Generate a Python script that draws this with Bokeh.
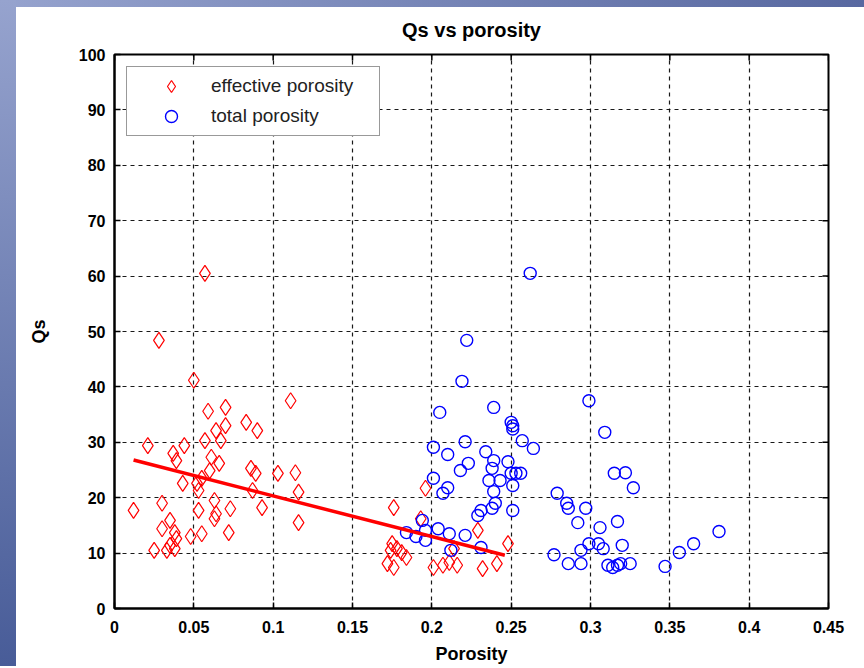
from bokeh.plotting import figure
from bokeh.models import Range1d, FixedTicker, Legend, LegendItem
from bokeh.embed import file_html
from bokeh.resources import INLINE

# effective porosity (red diamonds)
eff_porosity = [0.057, 0.028, 0.050, 0.111, 0.059, 0.070, 0.070, 0.064, 0.083, 0.090,
                0.057, 0.067, 0.021, 0.044, 0.037, 0.039, 0.061, 0.066, 0.060, 0.055,
                0.086, 0.089, 0.103, 0.114, 0.053, 0.052, 0.043, 0.087, 0.116, 0.063,
                0.064, 0.073, 0.093, 0.030, 0.012, 0.053, 0.063, 0.116, 0.035, 0.030,
                0.038, 0.072, 0.055, 0.048, 0.039, 0.035, 0.025, 0.033, 0.038, 0.176,
                0.196, 0.193, 0.175, 0.178, 0.181, 0.184, 0.174, 0.172, 0.176, 0.201,
                0.207, 0.211, 0.216, 0.229, 0.232, 0.241, 0.248, 0.214]
eff_qs = [60.5, 48.4, 41.2, 37.5, 35.6, 36.3, 33.0, 32.1, 33.6, 32.1,
          30.3, 30.3, 29.4, 29.4, 28.0, 26.7, 27.3, 26.2, 24.9, 23.5,
          25.3, 24.4, 24.4, 24.5, 21.3, 22.6, 22.6, 21.3, 21.0, 19.5,
          17.1, 18.0, 18.2, 19.0, 17.7, 17.7, 16.2, 15.5, 15.9, 14.4,
          13.7, 13.7, 13.5, 13.0, 12.6, 11.4, 10.5, 10.5, 10.8, 18.2,
          21.7, 16.2, 11.7, 10.8, 10.1, 9.2, 10.5, 8.1, 7.4, 7.4,
          7.8, 8.3, 7.8, 14.1, 7.2, 8.1, 11.7, 10.8]

# total porosity (blue circles)
tot_porosity = [0.262, 0.222, 0.219, 0.205, 0.239, 0.250, 0.251, 0.251, 0.221, 0.257,
                0.264, 0.201, 0.210, 0.234, 0.223, 0.218, 0.239, 0.238, 0.248, 0.250,
                0.253, 0.256, 0.236, 0.243, 0.251, 0.201, 0.210, 0.207, 0.239, 0.240,
                0.238, 0.231, 0.229, 0.251, 0.194, 0.184, 0.196, 0.196, 0.204, 0.211,
                0.221, 0.212, 0.231, 0.279, 0.285, 0.286, 0.297, 0.292, 0.306, 0.317,
                0.299, 0.309, 0.315, 0.322, 0.327, 0.277, 0.294, 0.299, 0.305, 0.308,
                0.320, 0.286, 0.294, 0.311, 0.314, 0.317, 0.319, 0.325, 0.347, 0.356,
                0.365, 0.381, 0.190]
tot_qs = [60.5, 48.4, 41.0, 35.4, 36.3, 33.6, 33.0, 32.4, 30.1, 30.3,
          28.9, 29.1, 27.8, 28.3, 26.2, 24.9, 26.7, 25.3, 26.5, 24.4,
          24.4, 24.4, 23.1, 23.1, 22.2, 23.5, 21.8, 20.8, 21.1, 19.0,
          18.1, 17.7, 16.8, 17.7, 15.9, 13.7, 14.1, 12.3, 14.4, 13.5,
          13.2, 10.5, 11.0, 20.8, 19.0, 18.1, 18.1, 15.5, 14.6, 15.7,
          37.5, 31.8, 24.4, 24.5, 21.8, 9.7, 10.5, 11.7, 11.7, 10.8,
          11.4, 8.1, 8.1, 7.8, 7.4, 7.8, 8.1, 8.1, 7.6, 10.1,
          11.7, 13.9, 13.0]

# linear trend of effective porosity
fit_porosity = [0.012, 0.246]
fit_qs = [26.8, 9.6]

x_ticks = [0, 0.05, 0.1, 0.15, 0.2, 0.25, 0.3, 0.35, 0.4, 0.45]
y_ticks = [0, 10, 20, 30, 40, 50, 60, 70, 80, 90, 100]

FONT = "Liberation Sans"
FW, FH = 714, 554
X0, X1, Y0, Y1 = 0, 0.45, 0, 100
TICK_PX = 6

p = figure(frame_width=FW, frame_height=FH,
           x_range=Range1d(X0, X1), y_range=Range1d(Y0, Y1),
           output_backend="svg", toolbar_location=None,
           min_border_left=114, min_border_right=36, min_border_top=54, min_border_bottom=50,
           title="Qs vs porosity")
p.background_fill_color = "white"
p.border_fill_alpha = 0
# slide-style blue gradient bands along the left and top edges of the page
p.styles = {
    "background-color": "white",
    "background-image": ("linear-gradient(to bottom, rgb(150,163,206), rgb(72,92,152)), "
                         "linear-gradient(to right, rgb(150,163,206), rgb(88,104,160))"),
    "background-size": "16px 100%, 100% 7px",
    "background-position": "0 0, 0 0",
    "background-repeat": "no-repeat",
}
p.outline_line_color = "black"
p.outline_line_width = 2

p.title.align = "center"
p.title.text_font = FONT
p.title.text_font_style = "bold"
p.title.text_font_size = "20px"
p.title.text_color = "black"
p.title.standoff = 28

for ax in (p.xaxis[0], p.yaxis[0]):
    ax.major_tick_in = TICK_PX
    ax.major_tick_out = 0
    ax.minor_tick_in = 0
    ax.minor_tick_out = 0
    ax.axis_line_color = "black"
    ax.axis_line_width = 2
    ax.major_tick_line_color = "black"
    ax.major_tick_line_width = 1.5
    ax.major_label_text_font = FONT
    ax.major_label_text_font_style = "bold"
    ax.major_label_text_font_size = "16px"
    ax.major_label_text_color = "black"
    ax.axis_label_text_font = FONT
    ax.axis_label_text_font_style = "bold"
    ax.axis_label_text_font_size = "18px"
    ax.axis_label_text_color = "black"

p.xaxis[0].ticker = FixedTicker(ticks=x_ticks)
p.yaxis[0].ticker = FixedTicker(ticks=y_ticks)
p.xaxis[0].major_label_overrides = {t: ("0" if t == 0 else f"{t:g}") for t in x_ticks}
p.xaxis[0].axis_label = "Porosity"
p.yaxis[0].axis_label = "Qs"
p.xaxis[0].major_label_standoff = 12
p.yaxis[0].major_label_standoff = 9
p.xaxis[0].axis_label_standoff = 8
p.yaxis[0].axis_label_standoff = 27

# box ticks on the top and right edges (MATLAB style)
dy = TICK_PX / FH * (Y1 - Y0)
dx = TICK_PX / FW * (X1 - X0)
p.segment(x0=x_ticks, y0=[Y1] * len(x_ticks), x1=x_ticks, y1=[Y1 - dy] * len(x_ticks),
          line_color="black", line_width=1.5)
p.segment(x0=[X1] * len(y_ticks), y0=y_ticks, x1=[X1 - dx] * len(y_ticks), y1=y_ticks,
          line_color="black", line_width=1.5)

p.xgrid.ticker = FixedTicker(ticks=x_ticks)
p.ygrid.ticker = FixedTicker(ticks=y_ticks)
for g in (p.xgrid[0], p.ygrid[0]):
    g.grid_line_color = "black"
    g.grid_line_width = 1.2
    g.grid_line_dash = "4 4"
    g.grid_line_alpha = 0.9

r_eff = p.scatter(eff_porosity, eff_qs, marker="diamond", size=16,
                  fill_color=None, line_color="red", line_width=1.2)
r_tot = p.scatter(tot_porosity, tot_qs, marker="circle", size=12,
                  fill_color=None, line_color="blue", line_width=1.4)
p.line(fit_porosity, fit_qs, line_color="red", line_width=3.5)

legend = Legend(items=[LegendItem(label="effective porosity", renderers=[r_eff]),
                       LegendItem(label="total porosity", renderers=[r_tot])],
                location="top_left", margin=12, padding=4, spacing=0,
                glyph_width=80, glyph_height=30, label_standoff=0, label_width=164,
                label_text_font=FONT, label_text_font_size="19px",
                label_text_color="#222222",
                border_line_color="#333333", border_line_width=1.2,
                background_fill_color="white", background_fill_alpha=1)
p.add_layout(legend)

open("out.html", "w").write(file_html(p, INLINE))
